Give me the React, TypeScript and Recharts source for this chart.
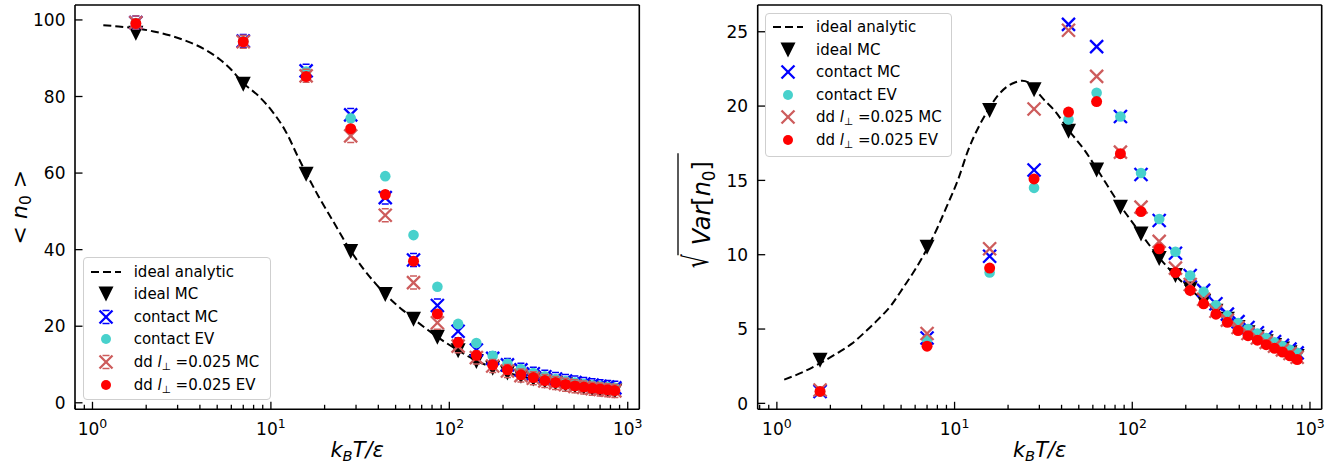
import React from 'react';
import { ComposedChart, Scatter, XAxis, YAxis, Legend, Label, ReferenceLine } from 'recharts';

const FONT = "'DejaVu Sans', sans-serif";

// ---------- data ----------
const TEMPERATURES = [1.75, 7, 15.75, 28, 43.75, 63, 85.75, 112, 141.75, 175, 211.75, 252, 295.75, 343, 393.75, 448, 505.75, 567, 631.75, 700, 771.75, 847];

const MEAN_ANALYTIC_T = [1.15, 1.4, 1.75, 2.2, 2.7, 3.4, 4.3, 5.2, 6.0, 7.0, 8.5, 10.3, 12.0, 14.3, 15.75, 18.5, 22.2, 28, 33, 38.5, 43.75, 50, 56.5, 63, 75, 85.75, 112, 141.75, 175, 252, 343, 448, 567, 700, 847];
const MEAN_ANALYTIC = [98.6, 98.3, 97.8, 97.0, 96.0, 94.4, 92.2, 89.6, 87.0, 83.5, 80.2, 75.8, 71.2, 63.9, 60.0, 53.9, 47.6, 39.7, 35.0, 31.2, 28.4, 25.8, 23.7, 21.9, 19.2, 17.2, 13.7, 11.0, 9.2, 6.9, 5.6, 4.7, 4.0, 3.5, 3.1];
const MEAN_IDEAL_MC = [96.5, 83.2, 59.7, 39.5, 28.3, 21.8, 17.1, 13.6, 10.8, 9.0, 7.8, 6.9, 6.2, 5.6, 5.1, 4.7, 4.3, 4.0, 3.7, 3.5, 3.3, 3.1];
const MEAN_CONTACT_MC = [99.3, 94.5, 86.7, 75.2, 53.6, 37.3, 25.4, 18.7, 13.8, 11.6, 9.9, 8.6, 7.6, 6.8, 6.2, 5.7, 5.3, 4.9, 4.6, 4.3, 4.1, 3.9];
const MEAN_CONTACT_EV = [99.2, 94.4, 86.5, 74.3, 59.2, 43.8, 30.3, 20.6, 15.6, 12.3, 10.2, 8.8, 7.8, 6.9, 6.2, 5.7, 5.3, 4.9, 4.6, 4.3, 4.1, 3.9];
const MEAN_DD_MC = [99.3, 94.3, 85.4, 69.7, 49.0, 31.4, 20.9, 14.8, 11.8, 9.6, 8.3, 7.1, 6.4, 5.7, 5.2, 4.7, 4.3, 4.0, 3.7, 3.5, 3.3, 3.1];
const MEAN_DD_EV = [99.1, 94.3, 85.2, 71.6, 54.4, 37.0, 23.2, 15.8, 12.4, 9.9, 8.6, 7.3, 6.6, 5.8, 5.3, 4.8, 4.4, 4.1, 3.8, 3.6, 3.4, 3.2];

const STD_ANALYTIC_T = [1.1, 1.4, 1.75, 2.2, 2.63, 3.2, 3.68, 4.4, 5.15, 6.0, 7.0, 8.0, 9.0, 10.5, 11.9, 13.8, 15.75, 17.5, 19.7, 22, 24, 26, 28, 32, 36.5, 43.75, 54.1, 63, 85.75, 112, 141.75, 175, 252, 343, 448, 567, 700, 847];
const STD_ANALYTIC = [1.6, 2.1, 2.7, 3.4, 4.0, 4.9, 5.6, 6.6, 7.8, 9.0, 10.4, 11.8, 13.2, 15.1, 17.0, 18.7, 19.9, 20.7, 21.3, 21.6, 21.7, 21.6, 21.2, 20.4, 19.7, 18.4, 17.0, 15.8, 13.3, 11.4, 9.8, 8.6, 6.9, 5.7, 4.8, 4.2, 3.7, 3.2];
const STD_IDEAL_MC = [2.9, 10.5, 19.7, 21.1, 18.3, 15.7, 13.2, 11.4, 9.75, 8.6, 7.7, 6.85, 6.2, 5.65, 5.1, 4.75, 4.45, 4.15, 3.9, 3.65, 3.4, 3.15];
const STD_CONTACT_MC = [0.8, 4.4, 9.9, 15.7, 25.5, 24.0, 19.3, 15.4, 12.3, 10.1, 8.6, 7.6, 6.7, 6.0, 5.5, 5.1, 4.75, 4.45, 4.15, 3.9, 3.65, 3.4];
const STD_CONTACT_EV = [0.8, 4.3, 8.8, 14.5, 19.1, 20.9, 19.3, 15.5, 12.4, 10.2, 8.6, 7.5, 6.6, 5.9, 5.4, 5.0, 4.7, 4.4, 4.1, 3.85, 3.6, 3.4];
const STD_DD_MC = [0.9, 4.7, 10.4, 19.8, 25.1, 22.0, 16.9, 13.2, 10.9, 9.1, 8.0, 7.0, 6.2, 5.6, 5.1, 4.7, 4.4, 4.1, 3.85, 3.6, 3.35, 3.1];
const STD_DD_EV = [0.8, 3.85, 9.1, 15.1, 19.6, 20.3, 16.8, 12.9, 10.4, 8.8, 7.6, 6.7, 6.0, 5.45, 4.9, 4.55, 4.25, 3.95, 3.7, 3.45, 3.2, 2.95];

const X_TICKS = [0.8, 0.9, 1, 2, 3, 4, 5, 6, 7, 8, 9, 10, 20, 30, 40, 50, 60, 70, 80, 90, 100, 200, 300, 400, 500, 600, 700, 800, 900, 1000];
const X_MAJOR_TICKS = [1, 10, 100, 1000];
const X_TICK_EXPONENTS = ['0', '1', '2', '3'];
const MEAN_Y_TICKS = [0, 20, 40, 60, 80, 100];
const STD_Y_TICKS = [0, 5, 10, 15, 20, 25];

const LEGEND_NAMES = ['ideal analytic', 'ideal MC', 'contact MC', 'contact EV', 'dd l⊥ =0.025 MC', 'dd l⊥ =0.025 EV'];

const COLORS = {
  black: '#000000',
  blue: '#0000ff',
  turquoise: '#48d1cc',
  indianred: '#cd5c5c',
  red: '#ff0000',
};

const zip = (xs: number[], ys: number[]) => xs.map((x, i) => ({ x, y: ys[i] }));

// ---------- marker shapes ----------
const TriDown = ({ cx, cy }: any) => {
  const s = 7.5;
  return <path d={`M${cx - s},${cy - s}L${cx + s},${cy - s}L${cx},${cy + s}Z`} fill={COLORS.black} />;
};

const XMark = ({ cx, cy, color, caps }: any) => {
  const s = 6.5;
  return (
    <g stroke={color} strokeWidth={2.3} fill="none">
      <line x1={cx - s} y1={cy - s} x2={cx + s} y2={cy + s} />
      <line x1={cx - s} y1={cy + s} x2={cx + s} y2={cy - s} />
      {caps && <line x1={cx - 3.5} y1={cy - s} x2={cx + 3.5} y2={cy - s} strokeWidth={1.5} />}
      {caps && <line x1={cx - 3.5} y1={cy + s} x2={cx + 3.5} y2={cy + s} strokeWidth={1.5} />}
    </g>
  );
};

const Dot = ({ cx, cy, color, r }: any) => <circle cx={cx} cy={cy} r={r} fill={color} />;

const NoShape = () => <g />;

// ---------- axes ticks ----------
const XTick = (props: any) => {
  const { x, y, payload } = props;
  const v = payload.value;
  const idx = X_MAJOR_TICKS.indexOf(v);
  const major = idx >= 0;
  return (
    <g>
      <line x1={x} x2={x} y1={y} y2={y - (major ? 7.5 : 4.5)} stroke="#000" strokeWidth={1.3} />
      {major && (
        <text x={x} y={y + 25.7} textAnchor="middle" fontFamily={FONT} fontSize={17} fill="#000">
          10<tspan dy={-6.7} fontSize={12.5}>{X_TICK_EXPONENTS[idx]}</tspan>
        </text>
      )}
    </g>
  );
};

const YTick = (props: any) => {
  const { x, y, payload } = props;
  return (
    <g>
      <line x1={x} x2={x + 7.5} y1={y} y2={y} stroke="#000" strokeWidth={1.3} />
      <text x={x - 9.5} y={y} dy={6.2} textAnchor="end" fontFamily={FONT} fontSize={17} fill="#000">
        {payload.value}
      </text>
    </g>
  );
};

// ---------- axis labels ----------
const XLabel = (props: any) => {
  const vb = props.viewBox;
  const cx = vb.x + vb.width / 2;
  const y = vb.y + 47.2;
  return (
    <text x={cx} y={y} textAnchor="middle" fontFamily={FONT} fontSize={21} fontStyle="italic" fill="#000">
      k<tspan fontSize={14.7} dy={4.5}>B</tspan>
      <tspan dy={-4.5}>T/ε</tspan>
    </text>
  );
};

const MeanYLabel = (props: any) => {
  const vb = props.viewBox;
  const cx = vb.x + 27;
  const cy = vb.y + vb.height / 2;
  return (
    <text transform={`translate(${cx},${cy}) rotate(-90)`} textAnchor="middle" fontFamily={FONT} fontSize={22} fill="#000">
      {'< '}
      <tspan fontStyle="italic">n</tspan>
      <tspan fontSize={15.4} dy={4}>0</tspan>
      <tspan dy={-4}>{' >'}</tspan>
    </text>
  );
};

const StdYLabel = (props: any) => {
  const vb = props.viewBox;
  const cx = vb.x + 40;
  const cy = vb.y + vb.height / 2;
  return (
    <g transform={`translate(${cx},${cy}) rotate(-90)`} fill="#000" fontFamily={FONT}>
      <text transform="translate(-47,-2) scale(1,1.55)" textAnchor="end" fontSize={22}>√</text>
      <text x={4} y={0} textAnchor="middle" fontSize={24}>
        <tspan fontStyle="italic">Var</tspan>[<tspan fontStyle="italic">n</tspan>
        <tspan fontSize={16.8} dy={4.5}>0</tspan>
        <tspan dy={-4.5}>]</tspan>
      </text>
      <line x1={-48} x2={54} y1={-32} y2={-32} stroke="#000" strokeWidth={1.3} />
    </g>
  );
};

// ---------- legend ----------
const LegendIcon = ({ kind, caps }: { kind: number; caps: boolean }) => {
  const cx = 15;
  const cy = 11;
  let inner: any = null;
  if (kind === 0) inner = <line x1={0} x2={30} y1={cy} y2={cy} stroke="#000" strokeWidth={2} strokeDasharray="8 4" />;
  if (kind === 1) inner = <TriDown cx={cx} cy={cy} />;
  if (kind === 2) inner = <XMark cx={cx} cy={cy} color={COLORS.blue} caps={caps} />;
  if (kind === 3) inner = <Dot cx={cx} cy={cy} r={5} color={COLORS.turquoise} />;
  if (kind === 4) inner = <XMark cx={cx} cy={cy} color={COLORS.indianred} caps={caps} />;
  if (kind === 5) inner = <Dot cx={cx} cy={cy} r={5} color={COLORS.red} />;
  return (
    <svg width={30} height={22} style={{ display: 'block', overflow: 'visible' }}>
      {inner}
    </svg>
  );
};

const LegendText = ({ name }: { name: string }) => {
  if (name.startsWith('dd l⊥')) {
    const rest = name.slice('dd l⊥'.length);
    return (
      <span>
        dd <span style={{ fontStyle: 'italic' }}>l</span>
        <span style={{ fontSize: 10.5, position: 'relative', top: 3 }}>⊥</span>
        {rest}
      </span>
    );
  }
  return <span>{name}</span>;
};

const LegendBox = ({ caps }: { caps: boolean }) => (
  <div
    style={{
      position: 'relative',
      width: '100%',
      height: '100%',
      boxSizing: 'border-box',
      border: '1.3px solid #cfcfcf',
      borderRadius: 4,
      background: 'rgba(255,255,255,0.8)',
      fontFamily: FONT,
      fontSize: 15,
      color: '#000',
    }}
  >
    {LEGEND_NAMES.map((name, i) => (
      <div key={name} style={{ position: 'absolute', left: 0, top: 13.4 + i * 22.6 - 11, height: 22, width: '100%' }}>
        <div style={{ position: 'absolute', left: 7, top: 0 }}>
          <LegendIcon kind={i} caps={caps} />
        </div>
        <div style={{ position: 'absolute', left: 50, top: 0, lineHeight: '22px', whiteSpace: 'nowrap' }}>
          <LegendText name={name} />
        </div>
      </div>
    ))}
  </div>
);

// ---------- panel ----------
type PanelProps = {
  width: number;
  yAxisWidth: number;
  marginRight: number;
  xDomain: [number, number];
  yDomain: [number, number];
  yTicks: number[];
  analyticT: number[];
  analytic: number[];
  idealMC: number[];
  contactMC: number[];
  contactEV: number[];
  ddMC: number[];
  ddEV: number[];
  caps: boolean;
  yLabel: any;
  legendStyle: any;
};

const Panel = (p: PanelProps) => (
  <ComposedChart width={p.width} height={465} margin={{ top: 5, right: p.marginRight, bottom: 0, left: 0 }}>
    <XAxis
      dataKey="x"
      type="number"
      scale="log"
      domain={p.xDomain}
      allowDataOverflow
      ticks={X_TICKS}
      interval={0}
      tickSize={0}
      tickMargin={0}
      tickLine={false}
      tick={<XTick />}
      height={55.7}
      axisLine={{ stroke: '#000', strokeWidth: 1.6 }}
    >
      <Label content={<XLabel />} />
    </XAxis>
    <YAxis
      dataKey="y"
      type="number"
      domain={p.yDomain}
      allowDataOverflow
      ticks={p.yTicks}
      interval={0}
      tickSize={0}
      tickMargin={0}
      tickLine={false}
      tick={<YTick />}
      width={p.yAxisWidth}
      axisLine={{ stroke: '#000', strokeWidth: 1.6 }}
    >
      <Label content={p.yLabel} />
    </YAxis>
    <ReferenceLine y={p.yDomain[1]} stroke="#000" strokeWidth={1.6} ifOverflow="visible" />
    <ReferenceLine x={p.xDomain[1]} stroke="#000" strokeWidth={1.6} ifOverflow="visible" />
    <Scatter
      data={zip(p.analyticT, p.analytic)}
      line={{ stroke: '#000', strokeWidth: 2, strokeDasharray: '8 4' }}
      lineJointType="monotoneX"
      shape={<NoShape />}
      isAnimationActive={false}
    />
    <Scatter data={zip(TEMPERATURES, p.idealMC)} shape={(s: any) => <TriDown cx={s.cx} cy={s.cy} />} isAnimationActive={false} />
    <Scatter data={zip(TEMPERATURES, p.contactMC)} shape={(s: any) => <XMark cx={s.cx} cy={s.cy} color={COLORS.blue} caps={p.caps} />} isAnimationActive={false} />
    <Scatter data={zip(TEMPERATURES, p.contactEV)} shape={(s: any) => <Dot cx={s.cx} cy={s.cy} r={5.3} color={COLORS.turquoise} />} isAnimationActive={false} />
    <Scatter data={zip(TEMPERATURES, p.ddMC)} shape={(s: any) => <XMark cx={s.cx} cy={s.cy} color={COLORS.indianred} caps={p.caps} />} isAnimationActive={false} />
    <Scatter data={zip(TEMPERATURES, p.ddEV)} shape={(s: any) => <Dot cx={s.cx} cy={s.cy} r={5.5} color={COLORS.red} />} isAnimationActive={false} />
    <Legend
      layout="vertical"
      align="center"
      verticalAlign="middle"
      content={() => <LegendBox caps={p.caps} />}
      wrapperStyle={p.legendStyle}
    />
  </ComposedChart>
);

export default function App() {
  return (
    <div style={{ position: 'absolute', left: 0, top: 0, width: 1339, height: 465, background: '#fff' }}>
      <div style={{ position: 'absolute', left: 0, top: 0 }}>
        <Panel
          width={660}
          yAxisWidth={75}
          marginRight={20.7}
          xDomain={[0.798, 1161]}
          yDomain={[-1.7, 103.9]}
          yTicks={MEAN_Y_TICKS}
          analyticT={MEAN_ANALYTIC_T}
          analytic={MEAN_ANALYTIC}
          idealMC={MEAN_IDEAL_MC}
          contactMC={MEAN_CONTACT_MC}
          contactEV={MEAN_CONTACT_EV}
          ddMC={MEAN_DD_MC}
          ddEV={MEAN_DD_EV}
          caps={true}
          yLabel={<MeanYLabel />}
          legendStyle={{ left: 82.7, top: 257.3, width: 188.3, height: 142.7 }}
        />
      </div>
      <div style={{ position: 'absolute', left: 670, top: 0 }}>
        <Panel
          width={669}
          yAxisWidth={87.7}
          marginRight={17.3}
          xDomain={[0.78, 1164]}
          yDomain={[-0.4, 26.8]}
          yTicks={STD_Y_TICKS}
          analyticT={STD_ANALYTIC_T}
          analytic={STD_ANALYTIC}
          idealMC={STD_IDEAL_MC}
          contactMC={STD_CONTACT_MC}
          contactEV={STD_CONTACT_EV}
          ddMC={STD_DD_MC}
          ddEV={STD_DD_EV}
          caps={false}
          yLabel={<StdYLabel />}
          legendStyle={{ left: 95, top: 12.7, width: 186.7, height: 144 }}
        />
      </div>
    </div>
  );
}
